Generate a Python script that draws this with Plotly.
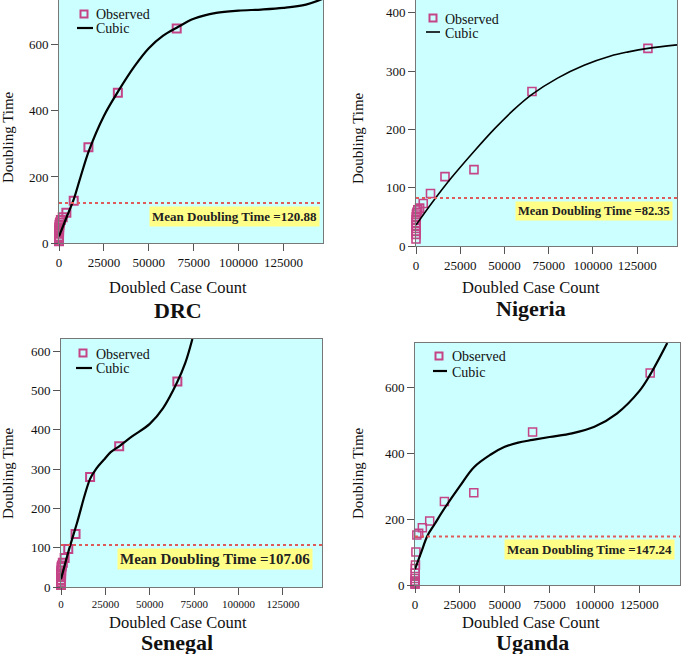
import plotly.graph_objects as go

W, H = 685, 654
FONT = "Liberation Serif"

# ---------------- data ----------------
countries = ["DRC", "Nigeria", "Senegal", "Uganda"]
mean_doubling = [120.88, 82.35, 107.06, 147.24]
legend_labels = ["Observed", "Cubic"]

drc_x = [1, 2, 4, 8, 16, 32, 64, 128, 256, 512, 1024, 2048, 4096, 8192, 16384, 32768, 65536]
drc_y = [5, 10, 15, 20, 28, 35, 40, 48, 55, 62, 70, 78, 92, 128, 290, 455, 650]
drc_fit_x = [0, 4000, 8192, 12000, 16833, 25000, 33000, 42000, 50000, 58000, 65536, 75000, 87500, 100000, 112500, 125000, 137500, 147000]
drc_fit_y = [20, 75, 132, 200, 282, 385, 460, 535, 590, 628, 652, 679, 697, 704, 707, 712, 722, 740]

nga_x = [1, 2, 4, 8, 16, 32, 64, 128, 256, 512, 1024, 2048, 4096, 8192, 16384, 32768, 65536, 131072]
nga_y = [12, 20, 25, 30, 35, 40, 45, 50, 55, 58, 62, 65, 73, 90, 119, 131, 265, 339]
nga_fit_x = [0, 10000, 20000, 33000, 45000, 55000, 65536, 80000, 95000, 110000, 120000, 131072, 147500]
nga_fit_y = [36, 78, 117, 163, 203, 233, 260, 288, 310, 326, 333, 339, 345]

sen_x = [1, 2, 4, 8, 16, 32, 64, 128, 256, 512, 1024, 2048, 4096, 8192, 16384, 32768, 65536]
sen_y = [5, 8, 12, 18, 25, 30, 35, 42, 50, 55, 62, 74, 97, 135, 280, 358, 523]
sen_fit_x = [0, 4500, 9000, 16384, 20000, 24000, 28000, 32768, 40000, 50000, 57500, 65536, 70000, 74000]
sen_fit_y = [20, 95, 163, 275, 302, 323, 343, 358, 383, 415, 455, 522, 570, 631]

uga_x = [1, 2, 4, 8, 16, 32, 64, 128, 256, 512, 1024, 2048, 4096, 8192, 16384, 32768, 65536, 131072]
uga_y = [2, 4, 6, 8, 12, 20, 36, 50, 61, 100, 152, 157, 174, 194, 253, 280, 464, 643]
uga_fit_x = [0, 3500, 7000, 11000, 16384, 25000, 33000, 42000, 50000, 57500, 65536, 75000, 87500, 100000, 112500, 125000, 131072, 140600]
uga_fit_y = [48, 100, 150, 185, 232, 300, 358, 395, 419, 432, 440, 449, 460, 480, 520, 588, 638, 734]

x_ticks = [0, 25000, 50000, 75000, 100000, 125000]
x_ranges = [[0, 147000], [0, 147500], [0, 147000], [0, 147700]]
y_ranges = [[0, 736], [0, 422], [0, 631], [0, 734]]
y_dticks = [200, 100, 100, 200]

obs = [(drc_x, drc_y), (nga_x, nga_y), (sen_x, sen_y), (uga_x, uga_y)]
fits = [(drc_fit_x, drc_fit_y), (nga_fit_x, nga_fit_y), (sen_fit_x, sen_fit_y), (uga_fit_x, uga_fit_y)]

# ---------------- layout geometry (pixels) ----------------
# (left, right, top, bottom) of each plot area
boxes = [(59, 323, 0, 243), (416, 677, 0, 246), (61, 322, 339, 587), (415, 680, 343, 585)]
xtitle_pos = [(178, 287), (531, 287), (178, 622), (531, 622)]
name_pos = [(178, 310), (531, 309), (177, 642), (532, 642)]
ytitle_pos = [(8, 137), (358, 138), (8, 473), (358, 473)]
label_font = [13, 12.5, 15, 13]
label_xdom = [0.988, 0.985, 0.965, 0.981]
# legend: (marker x, marker y, line x0, line x1, line y, text x)
legend_geo = [(84, 14, 77, 93, 28, 94), (433, 18, 426, 440, 32, 443),
              (83, 353, 76, 92, 368, 94), (439, 356, 433, 447, 371, 450)]
marker_lw = [2, 1.6, 2, 1.5]
curve_w = [2.2, 1.6, 2.2, 2.2]
xtick_font = [13, 13, 11, 13]

def px(x):
    return x / W

def py(y):
    return 1 - y / H

MARK = "#C44488"

fig = go.Figure()
annotations = []
shapes = []

for i in range(4):
    sfx = "" if i == 0 else str(i + 1)
    xa, ya = "x" + sfx, "y" + sfx
    ox, oy = obs[i]
    fx, fy = fits[i]
    fig.add_trace(go.Scatter(
        x=ox, y=oy, mode="markers", name="Observed", xaxis=xa, yaxis=ya,
        marker=dict(symbol="square-open", size=8, color=MARK, line=dict(width=marker_lw[i], color=MARK)),
        cliponaxis=False, showlegend=False))
    fig.add_trace(go.Scatter(
        x=fx, y=fy, mode="lines", name="Cubic", xaxis=xa, yaxis=ya,
        line=dict(color="black", width=curve_w[i], shape="spline", smoothing=1.0),
        showlegend=False))

    l, r, t, b = boxes[i]
    common = dict(showgrid=False, zeroline=False, showline=True, mirror=True,
                  linecolor="#777", linewidth=1, ticks="outside", ticklen=7,
                  tickcolor="#555", tickwidth=1, automargin=False)
    fig.layout["xaxis" + sfx] = dict(
        domain=[px(l), px(r)], anchor=ya, range=x_ranges[i], tickvals=x_ticks,
        tickformat="d", tickfont=dict(family=FONT, size=xtick_font[i], color="#111"), **common)
    fig.layout["yaxis" + sfx] = dict(
        domain=[py(b), py(t)], anchor=xa, range=y_ranges[i], dtick=y_dticks[i], tick0=0,
        tickformat="d", tickfont=dict(family=FONT, size=13, color="#111"), **common)

    # mean line
    m = mean_doubling[i]
    shapes.append(dict(type="line", xref=xa + " domain", yref=ya, x0=0, x1=1, y0=m, y1=m,
                       line=dict(color="#E05A5A", width=2, dash="dot")))
    annotations.append(dict(
        xref=xa + " domain", yref=ya, x=label_xdom[i], y=m, xanchor="right", yanchor="top",
        yshift=-3, showarrow=False, bgcolor="#FFFF88", borderpad=2,
        text="<b>Mean Doubling Time =%.2f</b>" % m,
        font=dict(family=FONT, size=label_font[i], color="#222")))

    # titles
    tx, ty = xtitle_pos[i]
    annotations.append(dict(xref="paper", yref="paper", x=px(tx), y=py(ty), xanchor="center",
                            yanchor="middle", showarrow=False, text="Doubled Case Count",
                            font=dict(family=FONT, size=16.5, color="#111")))
    nx, ny = name_pos[i]
    annotations.append(dict(xref="paper", yref="paper", x=px(nx), y=py(ny), xanchor="center",
                            yanchor="middle", showarrow=False, text="<b>%s</b>" % countries[i],
                            font=dict(family=FONT, size=22, color="#111")))
    yx, yy = ytitle_pos[i]
    annotations.append(dict(xref="paper", yref="paper", x=px(yx), y=py(yy), xanchor="center",
                            yanchor="middle", showarrow=False, text="Doubling Time", textangle=-90,
                            font=dict(family=FONT, size=15, color="#111")))

    # legend (drawn as layout decorations)
    mx, my, lx0, lx1, lyy, tx0 = legend_geo[i]
    shapes.append(dict(type="rect", xref="paper", yref="paper",
                       x0=px(mx - 3.5), x1=px(mx + 3.5), y0=py(my + 3.5), y1=py(my - 3.5),
                       line=dict(color=MARK, width=2), fillcolor="rgba(0,0,0,0)"))
    shapes.append(dict(type="line", xref="paper", yref="paper",
                       x0=px(lx0), x1=px(lx1), y0=py(lyy), y1=py(lyy),
                       line=dict(color="black", width=curve_w[i])))
    annotations.append(dict(xref="paper", yref="paper", x=px(tx0), y=py(my + 1), xanchor="left",
                            yanchor="middle", showarrow=False, text=legend_labels[0],
                            font=dict(family=FONT, size=14, color="#111")))
    annotations.append(dict(xref="paper", yref="paper", x=px(tx0), y=py(lyy + 1), xanchor="left",
                            yanchor="middle", showarrow=False, text=legend_labels[1],
                            font=dict(family=FONT, size=14, color="#111")))

fig.update_layout(
    width=W, height=H, margin=dict(l=0, r=0, t=0, b=0),
    paper_bgcolor="white", plot_bgcolor="#CCFFFF", showlegend=False,
    annotations=annotations, shapes=shapes,
)

fig.write_html("out.html", config={"displayModeBar": False},
               post_script="document.body.style.margin='0';document.body.style.overflow='hidden';")
